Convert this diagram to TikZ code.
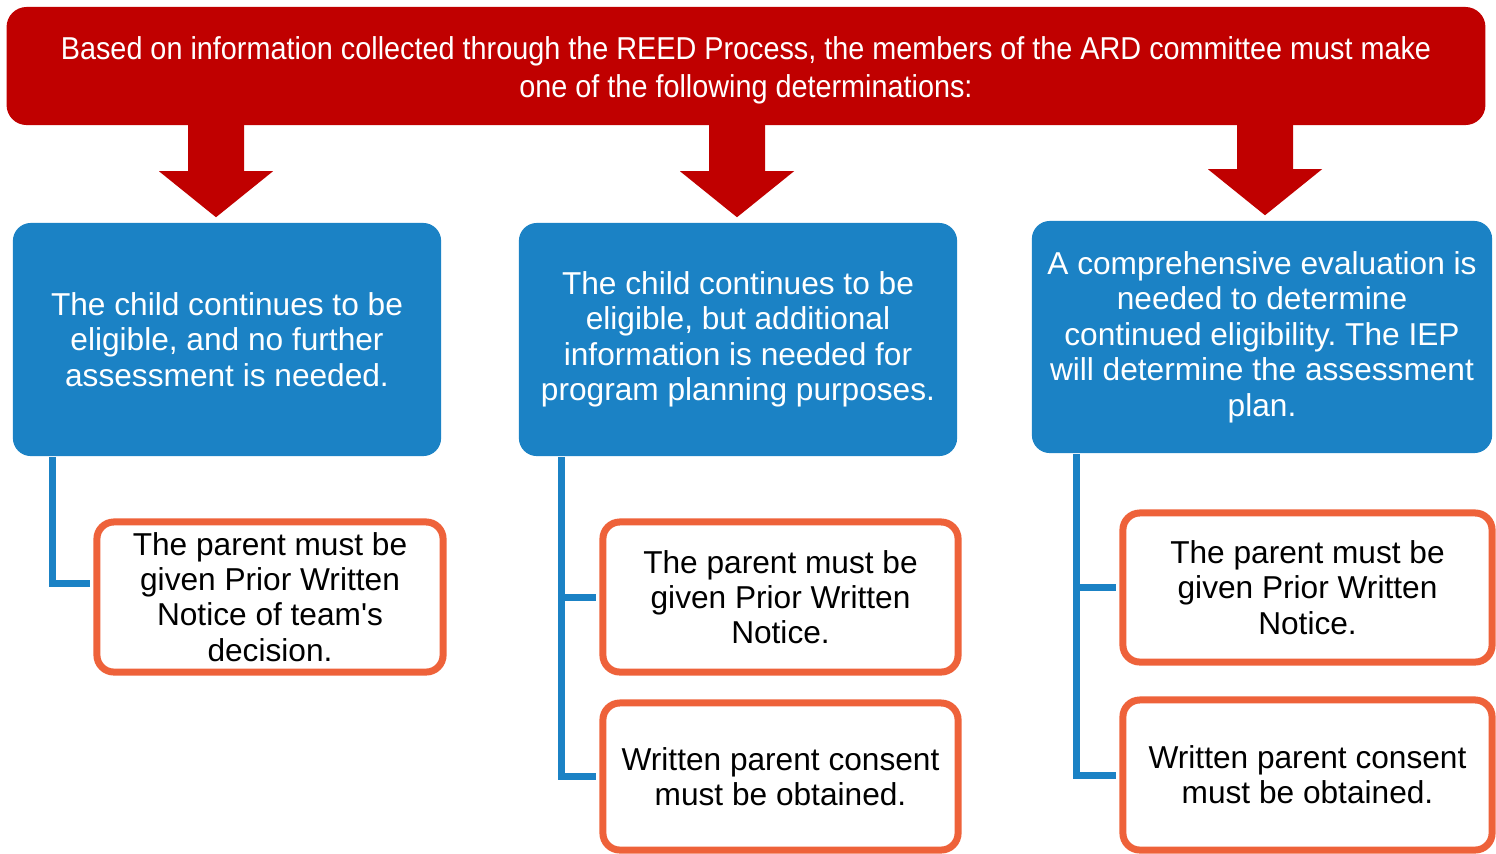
\documentclass[tikz,border=0pt]{standalone}
\usepackage{fontspec}
\usepackage{xcolor}
\usepackage{tikz}
\usetikzlibrary{positioning, calc}
\setmainfont{Liberation Sans}
\newfontfamily\headfont{Liberation Sans}[FakeStretch=0.91]
\definecolor{ardred}{RGB}{192,0,0}
\definecolor{ardblue}{RGB}{27,130,197}
\definecolor{ardorange}{RGB}{238,98,58}
\frenchspacing

\begin{document}
\begin{tikzpicture}[x=0.01cm, y=-0.01cm,
    header/.style={fill=ardred, rounded corners=0.2cm, text=white, align=center,
        inner sep=0pt, text height=0.69cm, font=\headfont\fontsize{9}{10.8}\selectfont},
    choice/.style={fill=ardblue, rounded corners=0.18cm, text=white, align=center,
        inner sep=0pt, font=\fontsize{9}{10.1}\selectfont},
    task/.style={draw=ardorange, line width=0.07cm, fill=white, rounded corners=0.17cm,
        align=center, inner sep=0pt, font=\fontsize{9}{10}\selectfont},
    link/.style={draw=ardblue, line width=0.07cm, shorten >=0.035cm}]
    \useasboundingbox (0,0) rectangle (1496,853);

    % Header
    \node[header, minimum width=14.78cm, minimum height=1.18cm] (hdr) at (746,66)
        {Based on information collected through the REED Process, the members of the ARD committee must make\\
         one of the following determinations:};

    % Determinations
    \node[choice, minimum width=4.28cm, minimum height=2.33cm] (b1) at (227,339.5)
        {The child continues to be\\ eligible, and no further\\ assessment is needed.};
    \node[choice, minimum width=4.38cm, minimum height=2.33cm] (b2) at (738,339.5)
        {The child continues to be\\ eligible, but additional\\ information is needed for\\ program planning purposes.};
    \node[choice, minimum width=4.60cm, minimum height=2.32cm] (b3) at (1262,337)
        {A comprehensive evaluation is\\ needed to determine\\ continued eligibility. The IEP\\ will determine the assessment\\ plan.};

    % Arrows
    \foreach \b/\dx in {b1/-11, b2/-1, b3/3} {
        \coordinate (tip) at ($(\b.north)+(\dx,-5)$);
        \fill[ardred] (tip) -- ++(-57,-46) -- ++(29,0)
            |- ($(hdr.south -| tip)+(28,-5)$) -- ($(tip)+(28,-46)$) -- ++(29,0) -- cycle;
    }

    % Requirements
    \node[task, minimum width=3.46cm, minimum height=1.50cm] (o1) at (270,597)
        {The parent must be\\ given Prior Written\\ Notice of team\textquotesingle s\\ decision.};
    \node[task, minimum width=3.55cm, minimum height=1.50cm] (o2a) at (780.5,597)
        {The parent must be\\ given Prior Written\\ Notice.};
    \node[task, minimum width=3.55cm, minimum height=1.47cm] (o2b) at (780.5,776.5)
        {Written parent consent\\ must be obtained.};
    \node[task, minimum width=3.69cm, minimum height=1.49cm] (o3a) at (1307.5,587.5)
        {The parent must be\\ given Prior Written\\ Notice.};
    \node[task, minimum width=3.69cm, minimum height=1.50cm] (o3b) at (1307.5,775)
        {Written parent consent\\ must be obtained.};

    % Connections
    \coordinate (trunk1) at ($(b1.south west)+(40,0)$);
    \coordinate (trunk2) at ($(b2.south west)+(43,0)$);
    \coordinate (trunk3) at ($(b3.south west)+(45,0)$);
    \draw[link] (trunk1) |- ($(o1.west)+(0,-14)$);
    \draw[link] (trunk2) |- (o2b.west);
    \draw[link] (trunk2 |- o2a.west) -- (o2a.west);
    \draw[link] (trunk3) |- (o3b.west);
    \draw[link] (trunk3 |- o3a.west) -- (o3a.west);
\end{tikzpicture}
\end{document}
